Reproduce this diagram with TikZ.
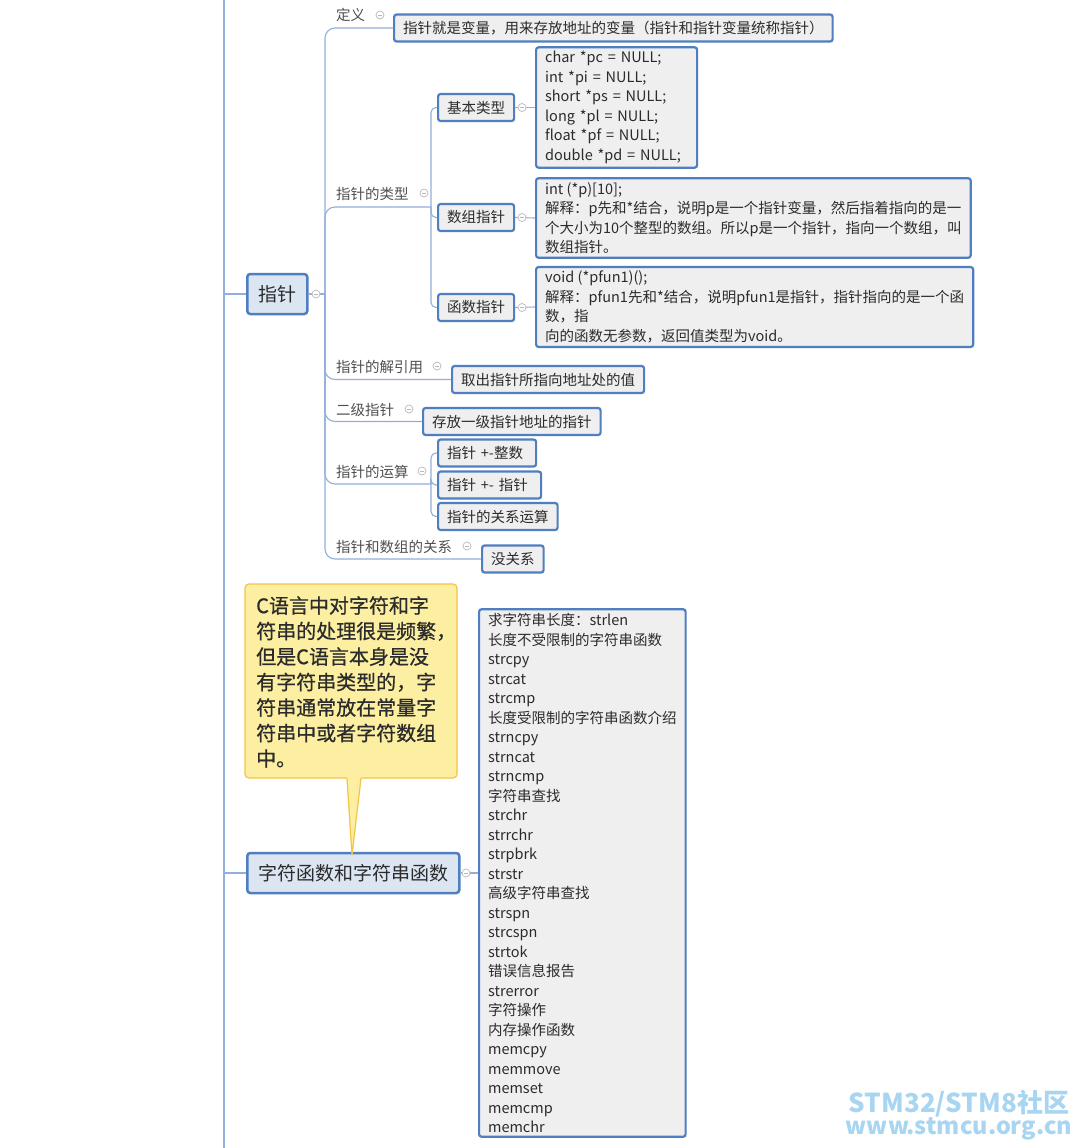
\documentclass[tikz,border=0pt]{standalone}
\usepackage{fontspec}
\setmainfont{Noto Sans CJK SC}
\newfontfamily\notefont{Noto Sans CJK SC}[FakeBold=0.7]
\definecolor{boxblue}{HTML}{4F7FC0}
\definecolor{leafgray}{HTML}{EFEFEF}
\definecolor{rootfill}{HTML}{DCE6F2}
\definecolor{connblue}{HTML}{93AEDB}
\definecolor{txt}{HTML}{2B2B2B}
\definecolor{lbltxt}{HTML}{505050}
\definecolor{calloutfill}{HTML}{FCEFA1}
\definecolor{calloutdraw}{HTML}{F3C34A}
\definecolor{wm}{HTML}{A8D5F2}
\definecolor{togglegray}{HTML}{B8B8B8}
\tikzset{
 leaf/.style={draw=boxblue, line width=2.2pt, fill=leafgray, rounded corners=2.5pt, inner xsep=9pt, inner ysep=4pt, font=\fontsize{14.5}{19.5}\selectfont, text=txt, align=left, anchor=west},
 onebox/.style={leaf, minimum height=27pt},
 rootnode/.style={draw=boxblue, line width=2.5pt, fill=rootfill, rounded corners=3pt, inner xsep=11pt, minimum height=40pt, font=\fontsize{19}{24}\selectfont, text=txt, anchor=west},
 lbl/.style={font=\fontsize{14.5}{19.5}\selectfont, text=lbltxt, inner sep=0pt, anchor=base west},
 conn/.style={draw=connblue, line width=1.1pt},
 toggle/.style={circle, draw=togglegray, line width=0.7pt, minimum size=8pt, inner sep=0pt, fill=white,
   path picture={\draw[togglegray, line width=0.7pt] ([xshift=-2pt]path picture bounding box.center) -- ([xshift=2pt]path picture bounding box.center);}},
}
\begin{document}
\begin{tikzpicture}[x=1pt,y=-1pt]
\useasboundingbox[fill=white] (0,0) rectangle (1080,1148);
% trunk
\coordinate (trunkTop) at (224,0);
\coordinate (trunkBot) at (224,1148);
\coordinate (j1) at (224,294);
\coordinate (j2) at (224,873);
\draw[conn] (trunkTop) -- (trunkBot);

% root nodes
\node[rootnode] (ptr) at (246,294) {指针};
\node[rootnode] (str) at (246,873) {字符函数和字符串函数};

% leaf boxes
\node[onebox] (def) at (393,28) {指针就是变量，用来存放地址的变量（指针和指针变量统称指针）};
\node[onebox] (basic) at (437,107.5) {基本类型};
\node[onebox] (arr) at (437,217.5) {数组指针};
\node[onebox] (fun) at (437,307.5) {函数指针};
\node[leaf, text width=143pt] (code) at (535,107.5) {char *pc = NULL;\\int *pi = NULL;\\short *ps = NULL;\\long *pl = NULL;\\float *pf = NULL;\\double *pd = NULL;};
\node[leaf] (arrdesc) at (535,218) {int (*p)[10];\\解释：p先和*结合，说明p是一个指针变量，然后指着指向的是一\\个大小为10个整型的数组。所以p是一个指针，指向一个数组，叫\\数组指针。};
\node[leaf] (fundesc) at (535,307) {void (*pfun1)();\\解释：pfun1先和*结合，说明pfun1是指针，指针指向的是一个函\\数，指\\向的函数无参数，返回值类型为void。};
\node[onebox] (deref) at (451,379.5) {取出指针所指向地址处的值};
\node[onebox] (dbl) at (422,421.5) {存放一级指针地址的指针};
\node[onebox, text width=80pt] (op1) at (437,453) {指针 +-整数};
\node[onebox, text width=85pt] (op2) at (437,485) {指针 +- 指针};
\node[onebox] (op3) at (437,516.5) {指针的关系运算};
\node[onebox] (norel) at (481,559) {没关系};

\node[leaf] (list) at (478,873) {求字符串长度：strlen\\长度不受限制的字符串函数\\strcpy\\strcat\\strcmp\\长度受限制的字符串函数介绍\\strncpy\\strncat\\strncmp\\字符串查找\\strchr\\strrchr\\strpbrk\\strstr\\高级字符串查找\\strspn\\strcspn\\strtok\\错误信息报告\\strerror\\字符操作\\内存操作函数\\memcpy\\memmove\\memset\\memcmp\\memchr};

% labels
\node[lbl] (l1) at (336,21) {定义};
\node[lbl] (l2) at (336,199) {指针的类型};
\node[lbl] (l3) at (336,372) {指针的解引用};
\node[lbl] (l4) at (336,415) {二级指针};
\node[lbl] (l5) at (336,477) {指针的运算};
\node[lbl] (l6) at (336,552) {指针和数组的关系};

% connectors
\coordinate (hub) at (325,294);
\coordinate (typeJ) at (431,207);
\coordinate (opJ) at (431,484);
\draw[conn] (j1) -- (ptr.west);
\draw[conn] (j2) -- (str.west);
\draw[conn] (ptr.east) -- (hub);
\draw[conn, rounded corners=10pt] (hub) |- (def.west);
\draw[conn, rounded corners=10pt] (hub) |- (typeJ);
\draw[conn, rounded corners=10pt] (hub) |- (deref.west);
\draw[conn, rounded corners=10pt] (hub) |- (dbl.west);
\draw[conn, rounded corners=10pt] (hub) |- (opJ);
\draw[conn, rounded corners=10pt] (hub) |- (norel.west);
\draw[conn, rounded corners=5pt] (typeJ) |- (basic.west);
\draw[conn, rounded corners=5pt] (typeJ) |- (arr.west);
\draw[conn, rounded corners=5pt] (typeJ) |- (fun.west);
\draw[conn, rounded corners=5pt] (opJ) |- (op1.west);
\draw[conn, rounded corners=5pt] (opJ) |- (op2.west);
\draw[conn, rounded corners=5pt] (opJ) |- (op3.west);
\draw[conn] (basic.east) -- (code.west);
\draw[conn] (arr.east) -- (arrdesc.west);
\draw[conn] (fun.east) -- (fundesc.west);
\draw[conn] (str.east) -- (list.west);

% toggles
\node[toggle] (t0) at (316,294) {};
\node[toggle] (t1) at (380,15) {};
\node[toggle] (t2) at (424,193) {};
\node[toggle] (t3) at (522,107.5) {};
\node[toggle] (t4) at (522,217.5) {};
\node[toggle] (t5) at (522,307.5) {};
\node[toggle] (t6) at (437,366) {};
\node[toggle] (t7) at (409,409) {};
\node[toggle] (t8) at (422,471) {};
\node[toggle] (t9) at (467,546) {};
\node[toggle] (t10) at (466,873) {};

% callout
\draw[fill=calloutfill, draw=calloutdraw, line width=1.2pt, rounded corners=4pt] (245,584) rectangle (457,778);
\fill[calloutfill] (346.5,776.5) -- (361.5,776.5) -- (352,855) -- cycle;
\draw[calloutdraw, line width=1.2pt] (347,778) -- (352,855) -- (361,778);
\node[anchor=north west, inner sep=0pt, align=left, font=\notefont\fontsize{20}{25.5}\selectfont, text=txt] (note) at (256,596) {C语言中对字符和字\\符串的处理很是频繁，\\但是C语言本身是没\\有字符串类型的，字\\符串通常放在常量字\\符串中或者字符数组\\中。};

% watermark
\node[align=center, inner sep=0pt, font=\bfseries, text=wm] (wmark) at (959,1115) {{\fontsize{26}{25}\selectfont STM32/STM8社区}\\{\fontsize{23.5}{25}\selectfont www.stmcu.org.cn}};
\end{tikzpicture}
\end{document}
